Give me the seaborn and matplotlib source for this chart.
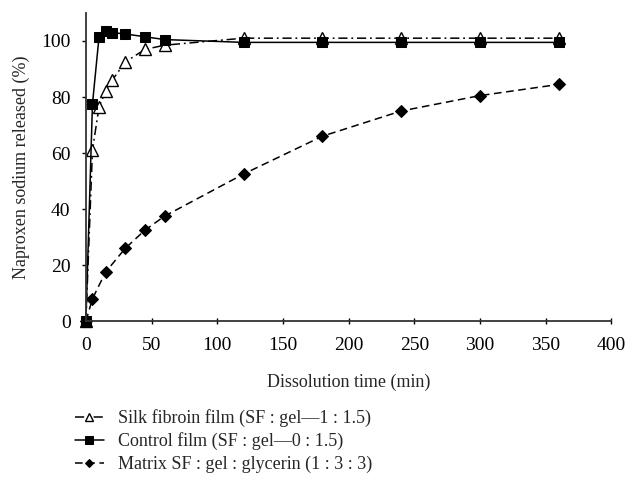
import pandas as pd
import seaborn as sns
import matplotlib.pyplot as plt

# release data
time_silk = [0, 5, 10, 15, 20, 30, 45, 60, 120, 180, 240, 300, 360]
silk = [0, 61, 76.5, 82, 86, 92.5, 97, 98.5, 101, 101, 101, 101, 101]

time_control = [0, 5, 10, 15, 20, 30, 45, 60, 120, 180, 240, 300, 360]
control = [0, 77.5, 101.5, 103.5, 103, 102.5, 101.5, 100.5, 99.5, 99.5, 99.5, 99.5, 99.5]

time_matrix = [0, 5, 15, 30, 45, 60, 120, 180, 240, 300, 360]
matrix = [0, 8, 17.5, 26, 32.5, 37.5, 52.5, 66, 75, 80.5, 84.5]

labels = ["Silk fibroin film (SF : gel\u20141 : 1.5)",
          "Control film (SF : gel\u20140 : 1.5)",
          "Matrix SF : gel : glycerin (1 : 3 : 3)"]

sns.set_style("white")
plt.rcParams['font.family'] = ['Liberation Serif', 'DejaVu Serif']

fig = plt.figure(figsize=(6.27, 4.8), dpi=100)
ax = fig.add_axes([0.137, 0.331, 0.838, 0.642])

sns.lineplot(x=time_silk, y=silk, ax=ax, color='black', lw=1.1,
             marker='^', markersize=8, markerfacecolor='white', markeredgecolor='black',
             markeredgewidth=1.0, label=labels[0], clip_on=False)
ax.lines[-1].set_dashes([6, 2.5, 1.2, 2.5])
sns.lineplot(x=time_control, y=control, ax=ax, color='black', lw=1.1,
             marker='s', markersize=7.5, markerfacecolor='black', markeredgecolor='black',
             label=labels[1], clip_on=False)
sns.lineplot(x=time_matrix, y=matrix, ax=ax, color='black', lw=1.1, linestyle='--',
             marker='D', markersize=6, markerfacecolor='black', markeredgecolor='black',
             label=labels[2], clip_on=False)
ax.lines[-1].set_dashes([5, 3])

ax.set_xlim(0, 400)
ax.set_ylim(0, 110)
ax.set_xticks(range(0, 401, 50))
ax.set_yticks(range(0, 101, 20))
ax.tick_params(axis='both', labelsize=14, colors='black')
ax.tick_params(axis='x', direction='inout', length=5, width=1.0, bottom=True, pad=9)
ax.tick_params(axis='y', direction='out', length=3, width=1.0, left=True, pad=8)

for s in ['top', 'right']:
    ax.spines[s].set_visible(False)
for s in ['left', 'bottom']:
    ax.spines[s].set_color('#333333')
    ax.spines[s].set_linewidth(1.3)

ax.set_xlabel("Dissolution time (min)", fontsize=13, labelpad=14)
ax.set_ylabel("Naproxen sodium released (%)", fontsize=13, labelpad=8)

ax.legend(loc='upper left', bbox_to_anchor=(0.108, 0.163), bbox_transform=fig.transFigure,
          frameon=False, fontsize=13, handlelength=1.6, handletextpad=0.8,
          labelspacing=0.3, borderaxespad=0, markerscale=0.7)

plt.savefig("out.png", dpi=100)
